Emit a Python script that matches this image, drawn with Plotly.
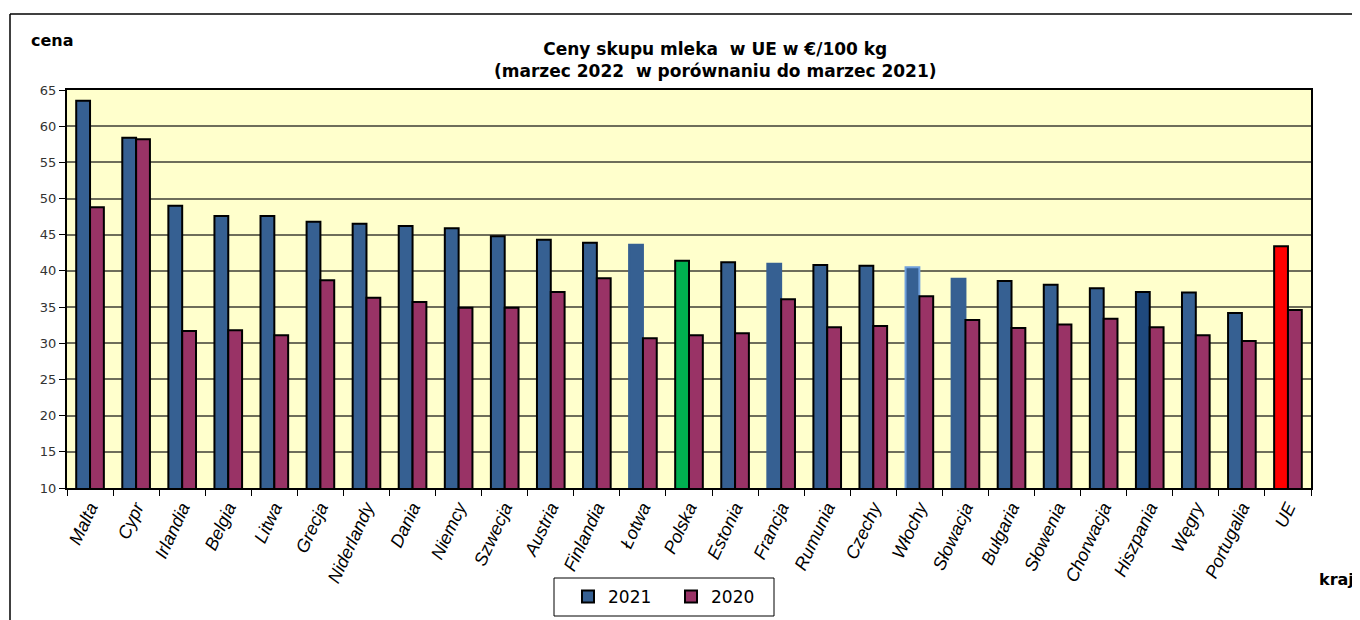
import plotly.graph_objects as go

countries = ["Malta", "Cypr", "Irlandia", "Belgia", "Litwa", "Grecja", "Niderlandy", "Dania",
             "Niemcy", "Szwecja", "Austria", "Finlandia", "Łotwa", "Polska", "Estonia", "Francja",
             "Rumunia", "Czechy", "Włochy", "Słowacja", "Bułgaria", "Słowenia", "Chorwacja",
             "Hiszpania", "Węgry", "Portugalia", "UE"]
v2021 = [63.5, 58.4, 49.0, 47.6, 47.6, 46.8, 46.5, 46.2, 45.9, 44.8, 44.3, 43.9, 43.6, 41.4,
         41.2, 41.0, 40.8, 40.7, 40.5, 38.9, 38.6, 38.1, 37.6, 37.1, 37.0, 34.2, 43.4]
v2020 = [48.8, 58.2, 31.7, 31.8, 31.1, 38.7, 36.3, 35.7, 34.9, 34.9, 37.1, 39.0, 30.7, 31.1,
         31.4, 36.1, 32.2, 32.4, 36.5, 33.2, 32.1, 32.6, 33.4, 32.2, 31.1, 30.3, 34.6]
y_ticks = [10, 15, 20, 25, 30, 35, 40, 45, 50, 55, 60, 65]

BLUE = "#366092"
MAROON = "#993366"
special_fill = {"Polska": "#00B050", "UE": "#FF0000", "Hiszpania": "#1F497D"}
no_outline = {"Łotwa": BLUE, "Francja": BLUE, "Słowacja": BLUE, "Włochy": "#6FA0DC"}

fill2021 = [special_fill.get(c, BLUE) for c in countries]
line2021 = [no_outline.get(c, "#000000") for c in countries]

fig = go.Figure()
fig.add_trace(go.Bar(x=countries, y=v2021, name="2021",
                     marker=dict(color=fill2021, line=dict(color=line2021, width=2))))
fig.add_trace(go.Bar(x=countries, y=v2020, name="2020",
                     marker=dict(color=MAROON, line=dict(color="#000000", width=2))))

# page has an 8px body margin -> work in page coordinates, convert to figure
OFF = 8
W, H = 1360, 620
PL, PR, PT, PB = 67, 1311, 90, 488  # plot area in page pixels
L, T = PL - OFF, PT - OFF
R = W - (PR - OFF)
B = H - (PB - OFF)
pw, ph = PR - PL, PB - PT


def px(x):
    return (x - PL) / pw


def py(y):
    return (PB - y) / ph


SANS = "Liberation Sans, Arial, sans-serif"
WIDE = "DejaVu Sans, Verdana, sans-serif"

fig.update_layout(
    width=W, height=H,
    margin=dict(l=L, r=R, t=T, b=B),
    paper_bgcolor="white",
    plot_bgcolor="#FFFFCC",
    barmode="group",
    bargap=0.4,
    bargroupgap=0,
    font=dict(family=SANS, color="#000000"),
    showlegend=True,
    legend=dict(orientation="h", xanchor="center", yanchor="middle",
                x=px(671), y=py(597), bgcolor="rgba(0,0,0,0)", borderwidth=0,
                font=dict(size=17, color="#000000", family=WIDE),
                entrywidth=58, traceorder="normal"),
    xaxis=dict(
        tickangle=-65,
        tickfont=dict(size=18, style="italic", color="#000000", family=SANS),
        ticks="outside", ticklen=6, tickcolor="#000000", tickson="boundaries",
        showline=True, linecolor="#000000", linewidth=2, mirror=True,
        showgrid=False,
    ),
    yaxis=dict(
        range=[10, 65], tickmode="array", tickvals=y_ticks, ticktext=[str(v) for v in y_ticks],
        tickfont=dict(size=13, color="#333333", family=WIDE),
        ticks="outside", ticklen=6, tickcolor="#000000",
        showline=True, linecolor="#000000", linewidth=2, mirror=True,
        showgrid=True, gridcolor="#6E6E5A", gridwidth=1.8,
        zeroline=False,
    ),
    annotations=[
        dict(text="<b>Ceny skupu mleka\u00a0 w UE w €/100 kg<br>(marzec 2022\u00a0 w porównaniu do marzec 2021)</b>",
             xref="paper", yref="paper", x=px(715), y=py(60), xanchor="center", yanchor="middle",
             showarrow=False, font=dict(size=17, color="#000000", family=WIDE)),
        dict(text="<b>cena</b>", xref="paper", yref="paper", x=px(29), y=py(40),
             xanchor="left", yanchor="middle", showarrow=False,
             font=dict(size=16, color="#000000", family=WIDE)),
        dict(text="<b>kraj</b>", xref="paper", yref="paper", x=px(1317), y=py(579),
             xanchor="left", yanchor="middle", showarrow=False,
             font=dict(size=16, color="#000000", family=WIDE)),
    ],
    shapes=[
        # outer chart frame
        dict(type="line", xref="paper", yref="paper", x0=px(10), x1=px(10), y0=py(14), y1=py(630),
             line=dict(color="#000000", width=1.5)),
        dict(type="line", xref="paper", yref="paper", x0=px(10), x1=px(1370), y0=py(14), y1=py(14),
             line=dict(color="#000000", width=1.5)),
        # legend box
        dict(type="rect", xref="paper", yref="paper", x0=px(554), x1=px(774), y0=py(578), y1=py(616),
             line=dict(color="#000000", width=1), fillcolor="white"),
    ],
)

fig.write_html("out.html")
